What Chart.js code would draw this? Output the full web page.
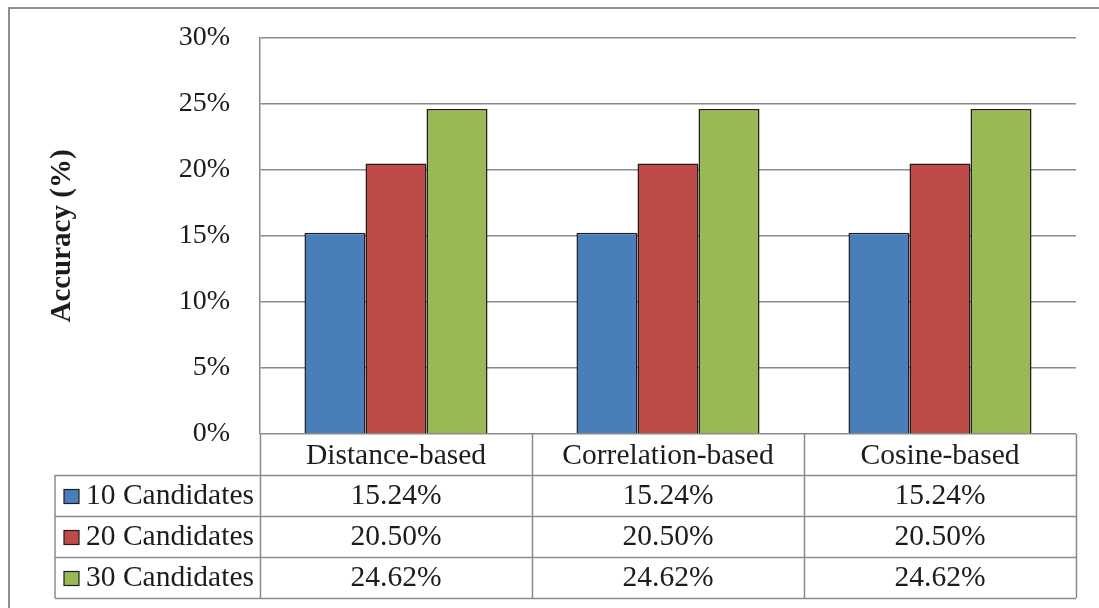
<!DOCTYPE html>
<html>
<head>
<meta charset="utf-8">
<script src="https://cdn.jsdelivr.net/npm/chart.js@4/dist/chart.umd.min.js"></script>
<style>
  html, body { margin: 0; padding: 0; background: #ffffff; }
  canvas { display: block; }
</style>
</head>
<body>
<canvas id="chart" width="1099" height="608"></canvas>
<script>
// Accuracy of each similarity method for different candidate-list sizes
const methods = ['Distance-based', 'Correlation-based', 'Cosine-based'];
const seriesNames = ['10 Candidates', '20 Candidates', '30 Candidates'];
const top10 = [15.24, 15.24, 15.24];
const top20 = [20.50, 20.50, 20.50];
const top30 = [24.62, 24.62, 24.62];
const seriesColors = ['#4A7EBB', '#BE4B48', '#98B954'];
const yTicks = [0, 5, 10, 15, 20, 25, 30];

const FONT = "'Liberation Serif', 'Times New Roman', serif";
const TEXT = '#1f1b1c';
const RULE = '#8a8a8a';

const seriesValues = [top10, top20, top30];

// Draws the outer frame and the data table (legend keys + values) under the plot
const dataTable = {
  id: 'dataTable',
  beforeDraw(chart) {
    const ctx = chart.ctx;
    ctx.save();
    ctx.fillStyle = '#ffffff';
    ctx.fillRect(0, 0, chart.width, chart.height);
    ctx.restore();
  },
  afterDraw(chart) {
    const ctx = chart.ctx;
    const area = chart.chartArea;
    const x = chart.scales.x;
    const rowH = 41;
    const keyLeft = 55;
    const colW = (area.right - area.left) / methods.length;
    const top = area.bottom;
    const rows = seriesNames.length;
    const bottom = top + rowH * (rows + 1);

    ctx.save();
    // outer frame
    ctx.strokeStyle = '#8f8f8f';
    ctx.lineWidth = 2;
    ctx.strokeRect(9, 8, chart.width + 20, chart.height + 20);

    // table rules
    ctx.strokeStyle = RULE;
    ctx.lineWidth = 1.5;
    ctx.beginPath();
    for (let c = 0; c <= methods.length; c++) {
      const cx = Math.round(area.left + c * colW) + 0.5;
      ctx.moveTo(cx, top);
      ctx.lineTo(cx, bottom);
    }
    ctx.moveTo(keyLeft, top + rowH);
    ctx.lineTo(keyLeft, bottom);
    for (let r = 1; r <= rows + 1; r++) {
      const y = Math.round(top + r * rowH) + 0.5;
      ctx.moveTo(keyLeft, y);
      ctx.lineTo(area.right, y);
    }
    ctx.stroke();

    ctx.fillStyle = TEXT;
    ctx.font = '29.5px ' + FONT;
    ctx.textBaseline = 'middle';
    ctx.textAlign = 'center';
    // column headers
    methods.forEach((m, i) => {
      ctx.fillText(m, x.getPixelForValue(i), top + rowH / 2 + 2);
    });
    // rows: legend key, series name, values
    seriesNames.forEach((name, r) => {
      const cy = top + rowH * (r + 1) + rowH / 2 + 1;
      ctx.fillStyle = seriesColors[r];
      ctx.fillRect(64, cy - 7, 15, 14);
      ctx.strokeStyle = '#1e1e1e';
      ctx.lineWidth = 1.2;
      ctx.strokeRect(64, cy - 7, 15, 14);
      ctx.fillStyle = TEXT;
      ctx.textAlign = 'left';
      ctx.fillText(name, 86, cy);
      ctx.textAlign = 'center';
      seriesValues[r].forEach((v, i) => {
        ctx.fillText(v.toFixed(2) + '%', x.getPixelForValue(i), cy);
      });
    });
    ctx.restore();
  }
};

new Chart(document.getElementById('chart'), {
  type: 'bar',
  data: {
    labels: methods,
    datasets: seriesNames.map((name, i) => ({
      label: name,
      data: seriesValues[i],
      backgroundColor: seriesColors[i],
      borderColor: '#1e1e1e',
      borderWidth: 1.5,
      categoryPercentage: 0.673,
      barPercentage: 1.0
    }))
  },
  options: {
    responsive: false,
    devicePixelRatio: 1,
    animation: false,
    layout: { padding: { left: 9, top: 38, right: 23, bottom: 174 } },
    plugins: {
      legend: { display: false },
      tooltip: { enabled: false }
    },
    scales: {
      x: { display: false },
      y: {
        min: 0,
        max: 30,
        afterFit(scale) {
          scale.width = 251;
          scale.paddingTop = 0;
          scale.paddingBottom = 0;
        },
        afterBuildTicks(scale) { scale.ticks = yTicks.map(v => ({ value: v })); },
        ticks: {
          padding: 30,
          color: TEXT,
          font: { family: FONT, size: 28 },
          callback: v => v + '%'
        },
        grid: { color: RULE, lineWidth: 1.5, drawTicks: false },
        border: { display: true, color: RULE, width: 1.5 },
        title: {
          display: true,
          text: 'Accuracy (%)',
          color: TEXT,
          font: { family: FONT, size: 29, weight: 'bold' },
          padding: { top: 36, bottom: 0 }
        }
      }
    }
  },
  plugins: [dataTable]
});
</script>
</body>
</html>
